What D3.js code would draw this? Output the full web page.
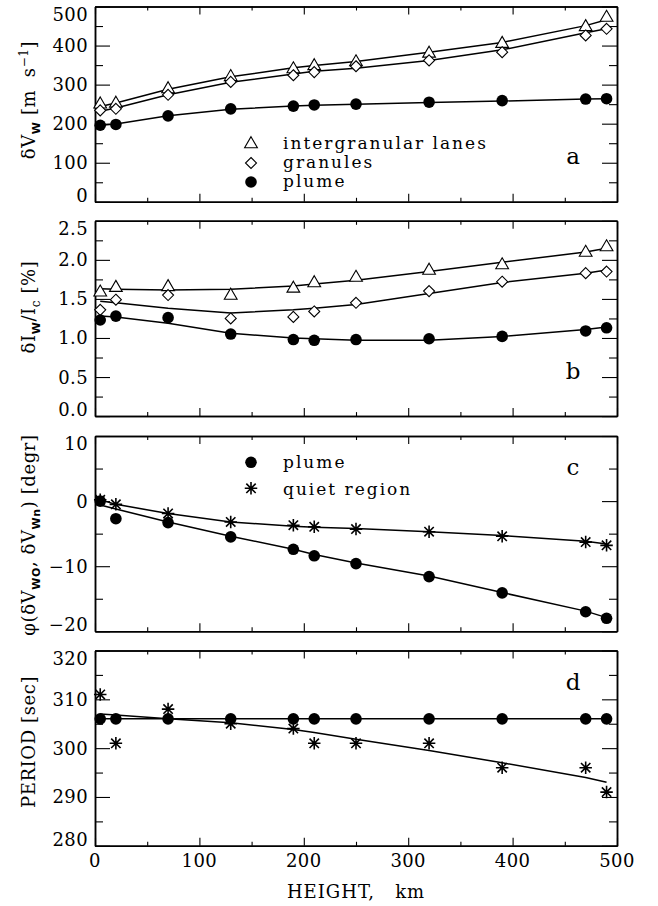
<!DOCTYPE html>
<html><head><meta charset="utf-8">
<script src="https://cdn.jsdelivr.net/npm/d3@7"></script>
<style>
body{margin:0;background:#fff}
svg text{font-family:"DejaVu Serif",serif;fill:#000}
</style>
</head><body>
<svg id="chart" width="658" height="906"></svg>
<script>
// ---------------- data ----------------
const heights = [5, 20, 70, 130, 190, 210, 250, 320, 390, 470, 490];

// panel a : delta V_w  [m/s]
const aLanes      = [251, 253, 290, 321, 341, 349, 359, 381, 406, 449, 473];
const aGranules   = [234, 238, 274, 307, 324, 332, 347, 362, 383, 426, 443];
const aPlume      = [196, 198, 220, 238, 245, 248, 250, 255, 259, 263, 264];
const aLanesFit   = [244, 253, 288, 320, 343, 349, 359, 383, 408, 451, 466];
const aGranFit    = [232, 240, 274, 306, 327, 334, 342, 362, 389, 433, 443];
const aPlumeFit   = [196, 199, 220, 237, 245, 247, 250, 254, 258, 263, 264];

// panel b : delta I_w / I_c  [%]
const bLanes      = [1.59, 1.65, 1.66, 1.55, 1.64, 1.71, 1.78, 1.87, 1.94, 2.10, 2.17];
const bGranules   = [1.36, 1.49, 1.55, 1.25, 1.27, 1.34, 1.45, 1.60, 1.72, 1.83, 1.85];
const bPlume      = [1.23, 1.28, 1.26, 1.05, 0.98, 0.97, 0.98, 0.99, 1.02, 1.09, 1.13];
const bLanesFit   = [1.63, 1.625, 1.615, 1.625, 1.665, 1.69, 1.74, 1.85, 1.97, 2.10, 2.15];
const bGranFit    = [1.47, 1.45, 1.38, 1.32, 1.36, 1.38, 1.43, 1.57, 1.71, 1.83, 1.87];
const bPlumeFit   = [1.28, 1.27, 1.19, 1.06, 1.00, 0.99, 0.97, 0.97, 1.02, 1.11, 1.14];

// panel c : phase [degr]
const cPlume      = [0.0, -2.7, -3.3, -5.5, -7.4, -8.4, -9.6, -11.6, -14.1, -17.0, -18.0];
const cQuiet      = [0.2, -0.5, -1.9, -3.2, -3.7, -3.95, -4.3, -4.7, -5.4, -6.3, -6.8];
const cPlumeFit   = [-0.6, -1.2, -3.2, -5.4, -7.4, -8.2, -9.5, -11.5, -14.05, -16.9, -17.9];
const cQuietFit   = [0.2, -0.5, -1.9, -3.2, -3.85, -4.0, -4.2, -4.7, -5.3, -6.15, -6.6];

// panel d : period [sec]
const dPlume      = [306, 306, 306, 306, 306, 306, 306, 306, 306, 306, 306];
const dQuiet      = [311, 301, 308, 305, 304, 301, 301, 301, 296, 296, 291];
const dPlumeFit   = [306, 306, 306, 306, 306, 306, 306, 306, 306, 306, 306];
const dQuietFit   = [307, 306.8, 306.0, 305.2, 303.8, 303.2, 301.8, 299.5, 297.0, 294.0, 293.0];

// ticks
const xMajor = [0, 100, 200, 300, 400, 500];
const xMinor = [50, 150, 250, 350, 450];
const aMajor = [0, 100, 200, 300, 400, 500];
const aMinor = [50, 150, 250, 350, 450];
const bMajor = [0, 0.5, 1.0, 1.5, 2.0, 2.5];
const bMinor = [0.25, 0.75, 1.25, 1.75, 2.25];
const cMajor = [-20, -10, 0, 10];
const cMinor = [-15, -5, 5];
const dMajor = [280, 290, 300, 310, 320];
const dMinor = [285, 295, 305, 315];

const legendA = ["intergranular lanes", "granules", "plume"];
const legendC = ["plume", "quiet region"];
const panelLetters = ["a", "b", "c", "d"];

// ---------------- layout ----------------
const svg = d3.select("#chart");
const X0 = 95, X1 = 617;
const tops = [6.5, 220.8, 436, 650.5];
const PH = 195.3;
const x = d3.scaleLinear().domain([0, 500]).range([X0, X1]);

// custom symbols
const triSym = {draw(ctx, s){ const h = s; ctx.moveTo(0, -h*0.62); ctx.lineTo(h*0.58, h*0.38); ctx.lineTo(-h*0.58, h*0.38); ctx.closePath(); }};
const diaSym = {draw(ctx, s){ ctx.moveTo(0, -s/2); ctx.lineTo(s/2, 0); ctx.lineTo(0, s/2); ctx.lineTo(-s/2, 0); ctx.closePath(); }};
const astSym = {draw(ctx, s){ const r = s/2, d = r*0.75;
  ctx.moveTo(0, -r); ctx.lineTo(0, r); ctx.moveTo(-r, 0); ctx.lineTo(r, 0);
  ctx.moveTo(-d, -d); ctx.lineTo(d, d); ctx.moveTo(-d, d); ctx.lineTo(d, -d); }};
const sym = {
  tri:  d3.symbol().type(triSym).size(11),
  dia:  d3.symbol().type(diaSym).size(11),
  ast:  d3.symbol().type(astSym).size(12.5)
};

function drawMarker(g, kind, px, py){
  if (kind === "dot") {
    g.append("circle").attr("cx", px).attr("cy", py).attr("r", 5.8).attr("fill", "#000");
  } else {
    g.append("path").attr("d", sym[kind]()).attr("transform", `translate(${px},${py})`)
      .attr("fill", kind === "ast" ? "none" : "#fff").attr("stroke", "#000")
      .attr("stroke-width", kind === "ast" ? 1.6 : 1.1);
  }
}

function panel(i, domain, majors, minors, fmt, series, fits){
  const top = tops[i], bot = top + PH;
  const y = d3.scaleLinear().domain(domain).range([bot, top]);
  const g = svg.append("g");

  // ticks (inward)
  const tk = (axis, tx, ty, vals, size) => {
    const a = g.append("g").attr("transform", `translate(${tx},${ty})`)
      .call(axis.tickValues(vals).tickSize(size).tickSizeOuter(0).tickFormat(""));
    a.selectAll(".tick line").attr("stroke", "#000").attr("stroke-width", 1.1);
    a.select(".domain").attr("stroke", "#000").attr("stroke-width", 1.5);
    return a;
  };
  tk(d3.axisRight(y), X0, 0, majors, 15);
  tk(d3.axisRight(y), X0, 0, minors, 8);
  tk(d3.axisLeft(y), X1, 0, majors, 15);
  tk(d3.axisLeft(y), X1, 0, minors, 8);
  tk(d3.axisBottom(x), 0, top, xMajor, 8);
  tk(d3.axisBottom(x), 0, top, xMinor, 4);
  tk(d3.axisTop(x), 0, bot, xMajor, 8);
  tk(d3.axisTop(x), 0, bot, xMinor, 4);

  // tick labels
  majors.forEach((v, k) => {
    let by;
    if (k === majors.length - 1) by = top + 14;
    else if (k === 0) by = bot;
    else by = y(v) + 6.5;
    g.append("text").attr("x", 88).attr("y", by).attr("text-anchor", "end")
      .attr("font-size", 18).attr("letter-spacing", 0.4).text(fmt(v));
  });

  // fit lines
  fits.forEach(f => {
    g.append("path").datum(f)
      .attr("d", d3.line().x((d, j) => x(heights[j])).y(d => y(d)))
      .attr("fill", "none").attr("stroke", "#000").attr("stroke-width", 1.5);
  });
  // markers
  series.forEach(s => {
    s.vals.forEach((v, j) => drawMarker(g, s.kind, x(heights[j]), y(v)));
  });

  // panel letter
  g.append("text").attr("x", 573).attr("y", [164, 378.5, 475, 690][i])
    .attr("text-anchor", "middle").attr("font-size", 23).text(panelLetters[i]);
  return {g, y};
}

const fmtInt = d => d3.format("d")(d).replace("-", "\u2212");
const fmt1 = d3.format(".1f");

panel(0, [0, 500], aMajor, aMinor, fmtInt,
  [{kind: "tri", vals: aLanes}, {kind: "dia", vals: aGranules}, {kind: "dot", vals: aPlume}],
  [aLanesFit, aGranFit, aPlumeFit]);
panel(1, [0, 2.5], bMajor, bMinor, fmt1,
  [{kind: "tri", vals: bLanes}, {kind: "dia", vals: bGranules}, {kind: "dot", vals: bPlume}],
  [bLanesFit, bGranFit, bPlumeFit]);
panel(2, [-20, 10], cMajor, cMinor, fmtInt,
  [{kind: "dot", vals: cPlume}, {kind: "ast", vals: cQuiet}],
  [cPlumeFit, cQuietFit]);
panel(3, [280, 320], dMajor, dMinor, fmtInt,
  [{kind: "dot", vals: dPlume}, {kind: "ast", vals: dQuiet}],
  [dPlumeFit, dQuietFit]);

// legends
const lg = svg.append("g");
const legA = [{kind: "tri", y: 143.5, by: 148.5}, {kind: "dia", y: 163, by: 167.5}, {kind: "dot", y: 182, by: 186.5}];
legA.forEach((l, k) => {
  drawMarker(lg, l.kind, 251, l.y);
  lg.append("text").attr("x", 283).attr("y", l.by).attr("font-size", 17)
    .attr("letter-spacing", 2).text(legendA[k]);
});
const legC = [{kind: "dot", y: 462.3, by: 468.3}, {kind: "ast", y: 488.3, by: 494.5}];
legC.forEach((l, k) => {
  drawMarker(lg, l.kind, 251, l.y);
  lg.append("text").attr("x", 283).attr("y", l.by).attr("font-size", 17)
    .attr("letter-spacing", 2).text(legendC[k]);
});

// x tick labels + title
xMajor.forEach(v => {
  svg.append("text").attr("x", x(v)).attr("y", 866.5).attr("text-anchor", "middle")
    .attr("font-size", 18).attr("letter-spacing", 0.4).text(v);
});
svg.append("text").attr("x", (X0 + X1) / 2).attr("y", 898).attr("text-anchor", "middle")
  .attr("font-size", 18).attr("letter-spacing", 1).style("white-space", "pre").text("HEIGHT,   km");

// y titles (rotated)
function ytitle(cy, parts){
  const t = svg.append("text").attr("transform", `translate(35,${cy}) rotate(-90)`)
    .attr("text-anchor", "middle").attr("font-size", 18).attr("letter-spacing", 0.6)
    .style("white-space", "pre");
  parts.forEach(p => {
    const s = t.append("tspan").text(p.t);
    if (p.dy) s.attr("dy", p.dy);
    if (p.sub) s.attr("font-size", 11).attr("font-weight", "bold").style("font-family", "'DejaVu Sans',sans-serif");
    if (p.small) s.attr("font-size", 12);
  });
}
ytitle(100, [{t: "\u03B4V"}, {t: "W", sub: true, dy: 5}, {t: " [m  s", dy: -5}, {t: "\u22121", small: true, dy: -7}, {t: "]", dy: 7}]);
ytitle(307, [{t: "\u03B4I"}, {t: "W", sub: true, dy: 5}, {t: "/I", dy: -5}, {t: "c", small: true, dy: 5}, {t: " [%]", dy: -5}]);
ytitle(535, [{t: "\u03C6(\u03B4V"}, {t: "WO", sub: true, dy: 5}, {t: ", \u03B4V", dy: -5}, {t: "Wn", sub: true, dy: 5}, {t: ") [degr]", dy: -5}]);
ytitle(742, [{t: "PERIOD [sec]"}]);
</script>
</body></html>
